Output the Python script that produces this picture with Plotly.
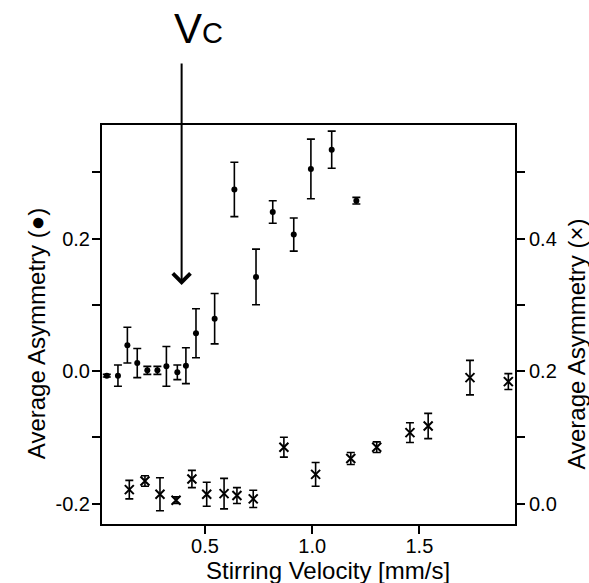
import plotly.graph_objects as go

# Filled circles (left axis)
dot_x = [0.042, 0.094, 0.138, 0.184, 0.231, 0.278, 0.320, 0.371, 0.411, 0.458,
         0.545, 0.637, 0.738, 0.816, 0.914, 0.994, 1.091, 1.206]
dot_y = [-0.007, -0.007, 0.039, 0.012, 0.001, 0.001, 0.007, -0.002, 0.008, 0.057,
         0.079, 0.274, 0.142, 0.240, 0.206, 0.305, 0.334, 0.257]
dot_err = [0.002, 0.016, 0.027, 0.022, 0.006, 0.006, 0.030, 0.011, 0.027, 0.037,
           0.038, 0.041, 0.042, 0.017, 0.025, 0.045, 0.028, 0.005]

# Crosses (right axis)
cross_x = [0.147, 0.220, 0.290, 0.365, 0.439, 0.508, 0.589, 0.649, 0.725, 0.868,
           1.016, 1.180, 1.301, 1.456, 1.541, 1.736, 1.915]
cross_y = [0.021, 0.034, 0.014, 0.005, 0.037, 0.014, 0.015, 0.012, 0.007, 0.085,
           0.044, 0.068, 0.085, 0.107, 0.117, 0.190, 0.184]
cross_err = [0.014, 0.008, 0.025, 0.005, 0.013, 0.018, 0.023, 0.012, 0.013, 0.015,
             0.018, 0.009, 0.008, 0.015, 0.019, 0.026, 0.012]

x_ticks = [0.5, 1.0, 1.5]
x_labels = ["0.5", "1.0", "1.5"]
yl_ticks = [-0.2, 0.0, 0.2]
yl_labels = ["-0.2", "0.0", "0.2"]
yr_ticks = [0.0, 0.2, 0.4]
yr_labels = ["0.0", "0.2", "0.4"]

vc_x = 0.391
vc_y = 0.130

FONT = "Liberation Sans, Arial, Helvetica, sans-serif"

fig = go.Figure()
fig.add_trace(go.Scatter(
    x=dot_x, y=dot_y, mode="markers",
    marker=dict(symbol="circle", size=6, color="black"),
    error_y=dict(type="data", array=dot_err, visible=True, color="black",
                 thickness=1.6, width=4),
    yaxis="y", showlegend=False))
fig.add_trace(go.Scatter(
    x=cross_x, y=cross_y, mode="markers",
    marker=dict(symbol="x-thin", size=9, color="black",
                line=dict(color="black", width=2)),
    error_y=dict(type="data", array=cross_err, visible=True, color="black",
                 thickness=1.6, width=4),
    yaxis="y2", showlegend=False))

axis_common = dict(showline=True, linecolor="black", linewidth=2,
                   ticks="outside", ticklen=8, tickwidth=1.5, tickcolor="black",
                   showgrid=False, zeroline=False,
                   tickfont=dict(family=FONT, size=20, color="black"))

fig.update_layout(
    width=589, height=583,
    margin=dict(l=102, r=74, t=125, b=59),
    paper_bgcolor="white", plot_bgcolor="white",
    xaxis=dict(range=[0.0196, 1.946], tickvals=x_ticks, ticktext=x_labels,
               mirror=True, ticklabelstandoff=-5, **axis_common),
    yaxis=dict(range=[-0.2309, 0.3713], tickvals=yl_ticks, ticktext=yl_labels,
               minor=dict(dtick=0.1, tick0=0, ticks="outside", ticklen=8,
                          tickwidth=1.5, tickcolor="black"),
               ticklabelstandoff=-2, **axis_common),
    yaxis2=dict(range=[-0.0309, 0.5713], tickvals=yr_ticks, ticktext=yr_labels,
                overlaying="y", side="right",
                minor=dict(dtick=0.1, tick0=0, ticks="outside", ticklen=8,
                           tickwidth=1.5, tickcolor="black"),
                **axis_common),
    annotations=[
        dict(text="Stirring Velocity [mm/s]", xref="paper", yref="paper",
             x=0.548, y=-0.117, showarrow=False, xanchor="center", yanchor="middle",
             font=dict(family=FONT, size=24, color="black")),
        dict(text="Average Asymmetry (\u25cf)", xref="paper", yref="paper",
             x=-0.16, y=0.478, showarrow=False, textangle=-90,
             xanchor="center", yanchor="middle",
             font=dict(family=FONT, size=24, color="black")),
        dict(text="Average Asymmetry (\u00d7)", xref="paper", yref="paper",
             x=1.148, y=0.45, showarrow=False, textangle=-90,
             xanchor="center", yanchor="middle",
             font=dict(family=FONT, size=24, color="black")),
        dict(text="", x=vc_x, y=vc_y, xref="x", yref="y",
             showarrow=True, ax=0, ay=-223, axref="pixel", ayref="pixel",
             arrowhead=4, arrowsize=1.7, arrowwidth=2, arrowcolor="black"),
        dict(text="V<span style='font-size:29px'>C</span>", x=0.472, y=1.242,
             xref="x", yref="paper", showarrow=False,
             xanchor="center", yanchor="middle",
             font=dict(family=FONT, size=42, color="black")),
    ],
)

fig.write_html("out.html")
